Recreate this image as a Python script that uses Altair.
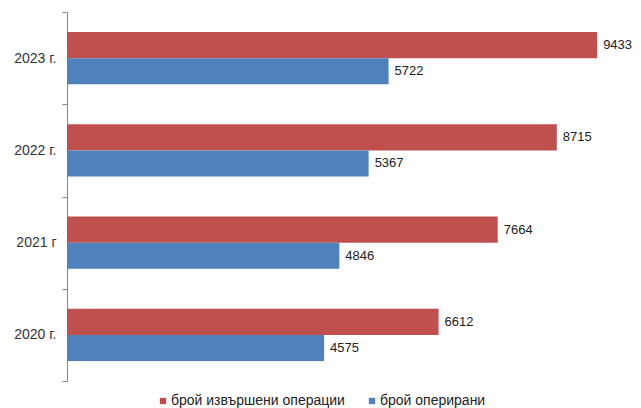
import altair as alt
import pandas as pd

years = ["2023 г.", "2022 г.", "2021 г", "2020 г."]
series = ["брой извършени операции", "брой оперирани"]
operations = [9433, 8715, 7664, 6612]
patients = [5722, 5367, 4846, 4575]
colors = ["#C0504D", "#4F81BD"]

rows = []
for y, o, p in zip(years, operations, patients):
    rows.append({"year": y, "series": series[0], "value": o})
    rows.append({"year": y, "series": series[1], "value": p})
df = pd.DataFrame(rows)

W, H = 562, 369

y_enc = alt.Y("year:N", sort=years, title=None,
              scale=alt.Scale(paddingInner=0, paddingOuter=0),
              axis=alt.Axis(tickBand="extent", domainColor="#868686", tickColor="#868686",
                            tickSize=5, labelFontSize=14, labelColor="#333333",
                            labelFont="Liberation Sans", labelPadding=6))
yoff = alt.YOffset("series:N", sort=series,
                   scale=alt.Scale(paddingInner=0, paddingOuter=0.774))
x_enc = alt.X("value:Q", scale=alt.Scale(domain=[0, 10000]), axis=None)

bars = alt.Chart(df).mark_bar().encode(
    x=x_enc, y=y_enc, yOffset=yoff,
    color=alt.Color("series:N", sort=series,
                    scale=alt.Scale(domain=series, range=colors),
                    legend=alt.Legend(title=None, orient="none", direction="horizontal",
                                      legendX=89, legendY=382, symbolType="square",
                                      symbolSize=40, symbolStrokeWidth=0,
                                      labelFontSize=14, labelFont="Liberation Sans",
                                      labelColor="#222222", columnPadding=20,
                                      labelOffset=1, labelLimit=300))
)

labels = alt.Chart(df).mark_text(align="left", baseline="middle", dx=6, fontSize=13,
                                  font="Liberation Sans", color="#222222").encode(
    x=x_enc, y=y_enc, yOffset=yoff, text="value:Q"
)

chart = (bars + labels).properties(
    width=W, height=H,
    autosize=alt.AutoSizeParams(type="none"),
    padding={"left": 59, "top": 4, "right": 4, "bottom": 27},
).configure_view(stroke=None)

chart.save("out.html", embed_options={"renderer": "svg", "actions": False})
